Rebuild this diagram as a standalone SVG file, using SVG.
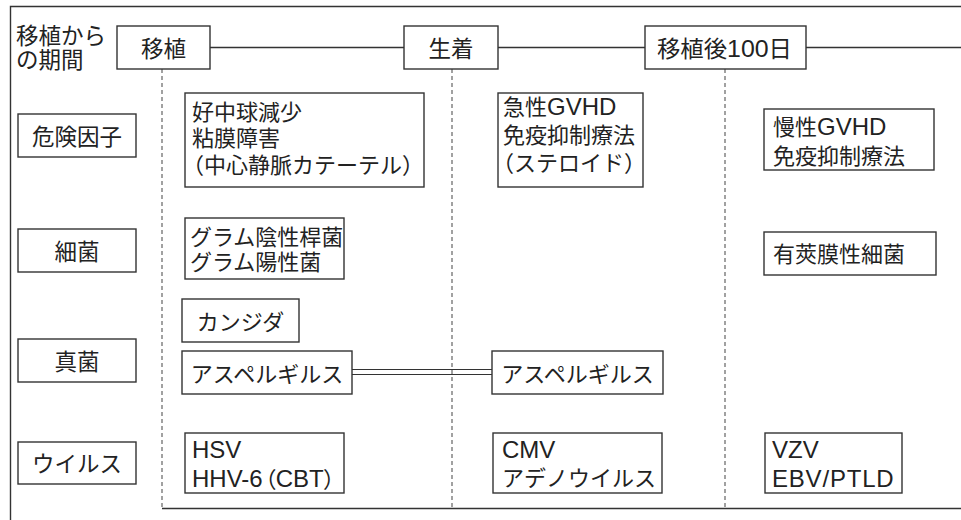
<svg xmlns="http://www.w3.org/2000/svg" width="961" height="520" viewBox="0 0 961 520">
<style>
text{font-family:"Liberation Sans","Noto Sans CJK JP",sans-serif;font-size:22px;fill:#222}
.h{font-size:22.5px}
.m{text-anchor:middle}
.lat{font-size:24px}
.p{font-feature-settings:"palt"}
rect{fill:#fff;stroke:#333;stroke-width:1.4}
.ln{stroke:#333;stroke-width:1.4;fill:none}
.d{stroke:#555;stroke-width:1.1;stroke-dasharray:4 3;fill:none}
</style>
<rect width="961" height="520" style="fill:#fff;stroke:none"/>
<g id="frame">
<path class="ln" d="M961 6.5H10.5V520M162 508.5H961"/>
</g>
<g id="connectors">
<path class="ln" d="M210 47.5H404M498 47.5H645M806 47.5H961"/>
<path class="d" d="M162 69V508M452 69V508M725 69V508"/>
<path class="ln" d="M352 369.5H492M352 374.5H492" style="stroke-width:1.1"/>
</g>
<g id="period-label"><text x="16" y="44" class="h">移植から</text><text x="16" y="68" class="h">の期間</text></g>
<g id="hdr-transplant"><rect x="117" y="26" width="93" height="43"/><text x="163.5" y="57" class="h m">移植</text></g>
<g id="hdr-engraft"><rect x="404" y="26" width="94" height="43"/><text x="451" y="57" class="h m">生着</text></g>
<g id="hdr-day100"><rect x="645" y="26" width="161" height="43"/><text x="657" y="57" class="h" textLength="135" lengthAdjust="spacingAndGlyphs">移植後<tspan class="lat">100</tspan>日</text></g>
<g id="cat-risk"><rect x="18" y="114" width="118" height="43"/><text x="77" y="145" class="h m">危険因子</text></g>
<g id="cat-bact"><rect x="18" y="229" width="118" height="43"/><text x="77" y="259.5" class="h m">細菌</text></g>
<g id="cat-fungi"><rect x="18" y="339" width="118" height="43"/><text x="77" y="370" class="h m">真菌</text></g>
<g id="cat-virus"><rect x="18" y="442" width="118" height="42"/><text x="77" y="471.5" class="h m">ウイルス</text></g>
<g id="risk-early"><rect x="185" y="93" width="239" height="94"/><text x="192" y="119.5">好中球減少</text><text x="192" y="146">粘膜障害</text><text x="182" y="172.5">（中心静脈カテーテル）</text></g>
<g id="risk-mid"><rect x="498" y="93" width="145" height="94"/><text x="503" y="115">急性<tspan class="lat">GVHD</tspan></text><text x="503" y="143">免疫抑制療法</text><text x="492" y="171">（ステロイド）</text></g>
<g id="risk-late"><rect x="764" y="109" width="170" height="61"/><text x="773" y="135">慢性<tspan class="lat">GVHD</tspan></text><text x="773" y="164">免疫抑制療法</text></g>
<g id="bact-early"><rect x="185" y="218" width="159" height="61"/><text x="190" y="245">グラム陰性桿菌</text><text x="190" y="270">グラム陽性菌</text></g>
<g id="bact-late"><rect x="764" y="232" width="172" height="43"/><text x="773" y="262">有莢膜性細菌</text></g>
<g id="fungi-candida"><rect x="182" y="299" width="117" height="43"/><text x="240.5" y="330" class="m">カンジダ</text></g>
<g id="fungi-asp-early"><rect x="182" y="351" width="170" height="43"/><text x="267" y="382" class="m">アスペルギルス</text></g>
<g id="fungi-asp-mid"><rect x="492" y="351" width="171" height="43"/><text x="577.5" y="382" class="m">アスペルギルス</text></g>
<g id="virus-early"><rect x="185" y="433" width="159" height="60"/><text x="192" y="458" class="lat">HSV</text><text x="192" y="487"><tspan class="lat">HHV-6</tspan><tspan class="p" dx="2">（</tspan><tspan class="lat">CBT</tspan><tspan class="p">）</tspan></text></g>
<g id="virus-mid"><rect x="493" y="433" width="169" height="60"/><text x="502" y="458" class="lat">CMV</text><text x="502" y="486">アデノウイルス</text></g>
<g id="virus-late"><rect x="765" y="433" width="137" height="60"/><text x="772" y="458" class="lat">VZV</text><text x="772" y="487" class="lat" style="letter-spacing:0.8px">EBV/PTLD</text></g>
</svg>
